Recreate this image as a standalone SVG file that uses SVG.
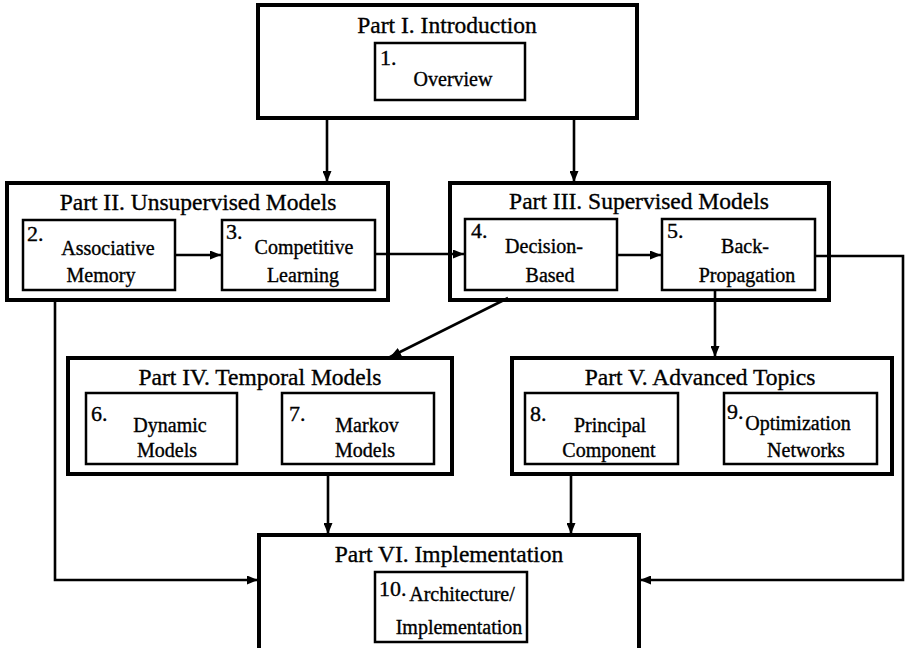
<svg xmlns="http://www.w3.org/2000/svg" width="905" height="648" viewBox="0 0 905 648">
<style>
.outer{fill:none;stroke:#000;stroke-width:4}
.inner{fill:#fff;stroke:#000;stroke-width:2.5}
text{font-family:"Liberation Serif","Times New Roman",serif;fill:#000;stroke:#000;stroke-width:0.35}
.title{font-size:23.5px;text-anchor:middle}
.num{font-size:22px}
.lbl{font-size:20px;text-anchor:middle}
.conn{fill:none;stroke:#000;stroke-width:2.6}
</style>
<defs>
<marker id="ah" markerWidth="11" markerHeight="9" refX="11" refY="4.5" orient="auto" markerUnits="userSpaceOnUse">
<path d="M0,0 L11,4.5 L0,9 Z" fill="#000"/>
</marker>
</defs>
<rect width="905" height="648" fill="#fff"/>

<g id="connectors">
<line class="conn" x1="327" y1="118" x2="327" y2="182" marker-end="url(#ah)"/>
<line class="conn" x1="574" y1="118" x2="574" y2="182" marker-end="url(#ah)"/>
<line class="conn" x1="175" y1="255" x2="221" y2="255" marker-end="url(#ah)"/>
<line class="conn" x1="375" y1="254" x2="464" y2="254" marker-end="url(#ah)"/>
<line class="conn" x1="617" y1="255" x2="661" y2="255" marker-end="url(#ah)"/>
<polyline class="conn" points="815,256 903,256 903,580 640,580" marker-end="url(#ah)"/>
<polyline class="conn" points="55,300 55,580 258,580" marker-end="url(#ah)"/>
<line class="conn" x1="508" y1="298" x2="390" y2="357" marker-end="url(#ah)"/>
<line class="conn" x1="715" y1="290" x2="715" y2="357" marker-end="url(#ah)"/>
<line class="conn" x1="328" y1="474" x2="328" y2="534" marker-end="url(#ah)"/>
<line class="conn" x1="571" y1="474" x2="571" y2="534" marker-end="url(#ah)"/>
</g>

<g id="part1">
<rect class="outer" x="258" y="5" width="379" height="113"/>
<text class="title" x="447" y="33">Part I. Introduction</text>
</g>
<g id="node1">
<rect class="inner" x="375" y="43" width="150" height="57"/>
<text class="num" x="380" y="65">1.</text>
<text class="lbl" x="453" y="86">Overview</text>
</g>

<g id="part2">
<rect class="outer" x="7" y="183" width="381" height="117"/>
<text class="title" x="198" y="210">Part II. Unsupervised Models</text>
</g>
<g id="node2">
<rect class="inner" x="23" y="220" width="152" height="70"/>
<text class="num" x="27" y="241">2.</text>
<text class="lbl" x="108" y="255">Associative</text>
<text class="lbl" x="101" y="282">Memory</text>
</g>
<g id="node3">
<rect class="inner" x="222" y="220" width="153" height="70"/>
<text class="num" x="226" y="239">3.</text>
<text class="lbl" x="304" y="254">Competitive</text>
<text class="lbl" x="303" y="282">Learning</text>
</g>

<g id="part3">
<rect class="outer" x="450" y="183" width="379" height="117"/>
<text class="title" x="639" y="209">Part III. Supervised Models</text>
</g>
<g id="node4">
<rect class="inner" x="465" y="219" width="152" height="71"/>
<text class="num" x="471" y="238">4.</text>
<text class="lbl" x="544" y="253">Decision-</text>
<text class="lbl" x="550" y="282">Based</text>
</g>
<g id="node5">
<rect class="inner" x="662" y="219" width="153" height="71"/>
<text class="num" x="667" y="238">5.</text>
<text class="lbl" x="745" y="253">Back-</text>
<text class="lbl" x="747" y="282">Propagation</text>
</g>

<g id="part4">
<rect class="outer" x="68" y="358" width="384" height="116"/>
<text class="title" x="260" y="385">Part IV. Temporal Models</text>
</g>
<g id="node6">
<rect class="inner" x="86" y="393" width="151" height="71"/>
<text class="num" x="91" y="421">6.</text>
<text class="lbl" x="170" y="432">Dynamic</text>
<text class="lbl" x="167" y="457">Models</text>
</g>
<g id="node7">
<rect class="inner" x="282" y="393" width="152" height="71"/>
<text class="num" x="289" y="421">7.</text>
<text class="lbl" x="367" y="432">Markov</text>
<text class="lbl" x="365" y="457">Models</text>
</g>

<g id="part5">
<rect class="outer" x="512" y="358" width="380" height="116"/>
<text class="title" x="700" y="385">Part V. Advanced Topics</text>
</g>
<g id="node8">
<rect class="inner" x="525" y="393" width="153" height="71"/>
<text class="num" x="530" y="421">8.</text>
<text class="lbl" x="610" y="432">Principal</text>
<text class="lbl" x="609" y="457">Component</text>
</g>
<g id="node9">
<rect class="inner" x="724" y="393" width="153" height="71"/>
<text class="num" x="727" y="419">9.</text>
<text class="lbl" x="798" y="430">Optimization</text>
<text class="lbl" x="806" y="457">Networks</text>
</g>

<g id="part6">
<rect class="outer" x="259" y="535" width="380" height="130"/>
<text class="title" x="449" y="562">Part VI. Implementation</text>
</g>
<g id="node10">
<rect class="inner" x="375" y="572" width="152" height="70"/>
<text class="num" x="379" y="596">10.</text>
<text class="lbl" x="462" y="601">Architecture/</text>
<text class="lbl" x="459" y="634">Implementation</text>
</g>
</svg>
